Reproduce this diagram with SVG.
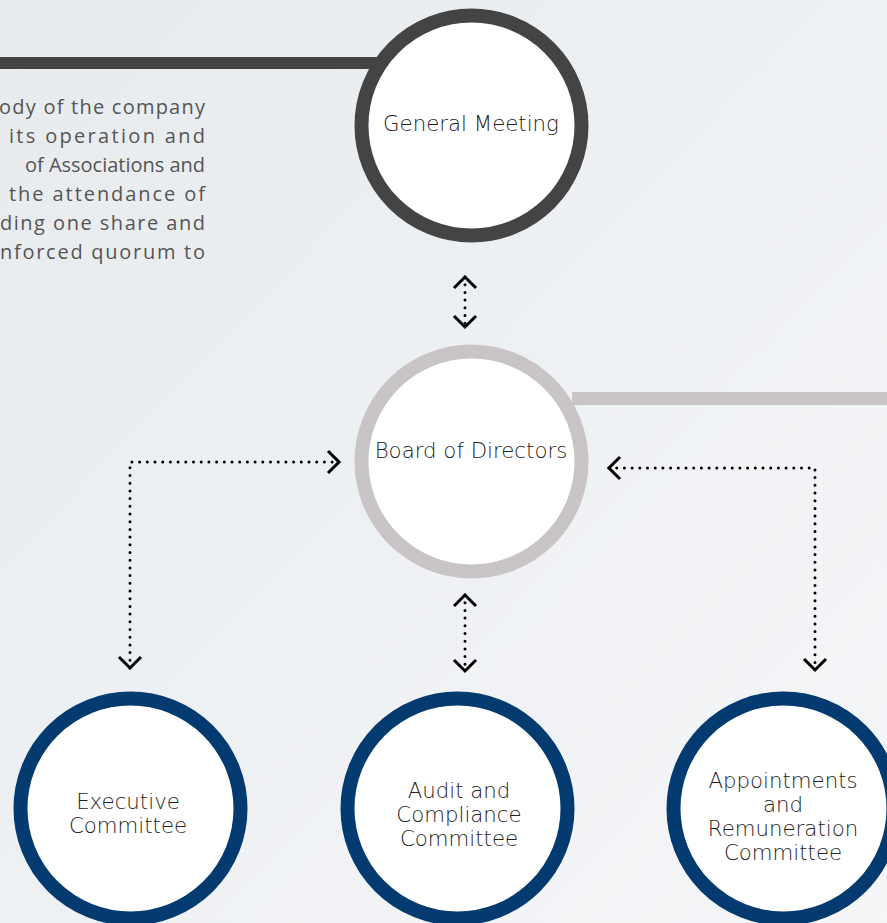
<svg xmlns="http://www.w3.org/2000/svg" width="887" height="923" viewBox="0 0 887 923">
<defs>
<linearGradient id="bg" x1="0" y1="0" x2="1" y2="1">
<stop offset="0" stop-color="#e7ebee"/>
<stop offset="1" stop-color="#f5f6f8"/>
</linearGradient>
<marker id="chev" markerUnits="userSpaceOnUse" viewBox="-16 -16 32 32" markerWidth="32" markerHeight="32" refX="0" refY="0" orient="auto-start-reverse">
<path d="M-11,-11 L0,0 L-11,11" fill="none" stroke="#000" stroke-width="3"/>
</marker>
</defs>
<style>
.lbl{font-family:"DejaVu Sans","Open Sans",sans-serif;font-weight:200;font-size:21.3px;fill:#222;text-anchor:middle}
.para{font-family:"Open Sans","Liberation Sans",sans-serif;font-weight:400;font-size:20px;fill:#555}
.node{fill:#fff;stroke-width:14}
.conn{fill:none;stroke:#000;stroke-width:3;stroke-linecap:round;stroke-dasharray:0 7.7;marker-start:url(#chev);marker-end:url(#chev)}
</style>
<rect width="887" height="923" fill="url(#bg)"/>
<rect x="0" y="57" width="390" height="12" fill="#444"/>
<rect x="572" y="392" width="315" height="13" fill="#c9c5c6"/>
<g id="description">
<text class="para" x="-1" y="114" textLength="206" lengthAdjust="spacing">ody of the company</text>
<text class="para" x="9" y="143" textLength="196" lengthAdjust="spacing">its operation and</text>
<text class="para" x="25" y="172" textLength="180" lengthAdjust="spacing">of Associations and</text>
<text class="para" x="9" y="201" textLength="196" lengthAdjust="spacing">the attendance of</text>
<text class="para" x="0" y="230" textLength="205" lengthAdjust="spacing">ding one share and</text>
<text class="para" x="0" y="259" textLength="205" lengthAdjust="spacing">nforced quorum to</text>
</g>
<g id="connectors">
<path class="conn" d="M465,277 L465,327"/>
<path class="conn" d="M130,668 L130,462 L339,462"/>
<path class="conn" d="M609,468 L815,468 L815,670"/>
<path class="conn" d="M465,595 L465,671"/>
</g>
<g id="general-meeting">
<circle class="node" cx="471.5" cy="125.5" r="110" stroke="#444"/>
<text class="lbl" x="471" y="131">General Meeting</text>
</g>
<g id="board-of-directors">
<circle class="node" cx="471.5" cy="461.5" r="110" stroke="#c9c5c6"/>
<text class="lbl" x="471" y="458">Board of Directors</text>
</g>
<g id="executive-committee">
<circle class="node" cx="130.5" cy="808.5" r="110" stroke="#033a6f"/>
<text class="lbl" x="128" y="809">Executive</text>
<text class="lbl" x="128" y="833">Committee</text>
</g>
<g id="audit-committee">
<circle class="node" cx="457.5" cy="808.5" r="110" stroke="#033a6f"/>
<text class="lbl" x="459" y="798">Audit and</text>
<text class="lbl" x="459" y="822">Compliance</text>
<text class="lbl" x="459" y="846">Committee</text>
</g>
<g id="appointments-committee">
<circle class="node" cx="783.5" cy="808.5" r="110" stroke="#033a6f"/>
<text class="lbl" x="783" y="788">Appointments</text>
<text class="lbl" x="783" y="812">and</text>
<text class="lbl" x="783" y="836">Remuneration</text>
<text class="lbl" x="783" y="860">Committee</text>
</g>
</svg>
